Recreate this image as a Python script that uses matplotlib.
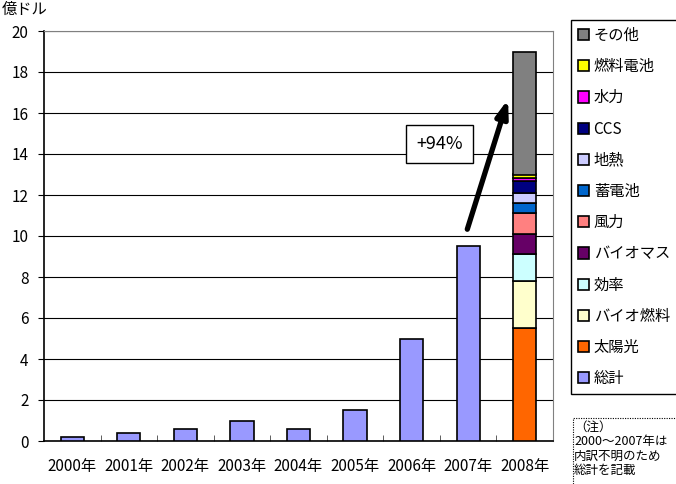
import matplotlib

matplotlib.use("Agg")
import matplotlib.pyplot as plt
from matplotlib.patches import Patch, Rectangle

plt.rcParams["font.family"] = ["Noto Sans CJK JP", "DejaVu Sans"]

YEARS = ["2000年", "2001年", "2002年", "2003年", "2004年", "2005年", "2006年", "2007年", "2008年"]
# totals for 2000-2007 (no breakdown available)
TOTALS = [0.2, 0.4, 0.6, 1.0, 0.6, 1.5, 5.0, 9.5]

# 2008 breakdown, bottom to top
SEGMENTS = ["太陽光", "バイオ燃料", "効率", "バイオマス", "風力", "蓄電池",
            "地熱", "CCS", "水力", "燃料電池", "その他"]
SEG_VALUES = [5.5, 2.3, 1.3, 1.0, 1.0, 0.5, 0.5, 0.6, 0.15, 0.15, 6.0]
SEG_COLORS = ["#FF6600", "#FFFFCC", "#CCFFFF", "#660066", "#FF8080", "#0066CC",
              "#CCCCFF", "#000080", "#FF00FF", "#FFFF00", "#808080"]
TOTAL_COLOR = "#9999FF"

fig = plt.figure(figsize=(6.76, 4.84), dpi=100)
ax = fig.add_axes([44 / 676, 43 / 484, 509 / 676, 410 / 484])

x = list(range(len(YEARS)))
w = 0.41
ax.bar(x[:len(TOTALS)], TOTALS, width=w, color=TOTAL_COLOR, edgecolor="black", linewidth=1.2, zorder=3)

bottom = 0.0
for val, col in zip(SEG_VALUES, SEG_COLORS):
    ax.bar(x[-1], val, width=w, bottom=bottom, color=col, edgecolor="black", linewidth=1.2, zorder=3)
    bottom += val

ax.set_xlim(-0.5, len(YEARS) - 0.5)
ax.set_ylim(0, 20)
ax.set_yticks(range(0, 21, 2))
ax.yaxis.grid(True, color="black", linewidth=0.8, zorder=0)
ax.set_xticks(x)
ax.set_xticklabels(YEARS, fontsize=11)
ax.set_xticks([i + 0.5 for i in x[:-1]], minor=True)
ax.tick_params(axis="x", which="major", length=0, pad=12)
ax.tick_params(axis="x", which="minor", direction="in", length=4, color="#444444")
ax.tick_params(axis="y", labelsize=11, length=4, direction="out", pad=7)
for side in ["top", "right"]:
    ax.spines[side].set_color("#808080")
for side in ["left", "bottom"]:
    ax.spines[side].set_color("black")
    ax.spines[side].set_linewidth(1.2)

fig.text(2 / 676, 1 - 1 / 484, "億ドル", fontsize=11, va="top", ha="left")

# growth arrow and label
ax.annotate("", xy=(7.72, 16.8), xytext=(6.97, 10.2),
            arrowprops=dict(arrowstyle="-|>,head_length=1.0,head_width=0.35", color="black", lw=3.8),
            zorder=5)
ax.text(6.49, 14.5, "+94%", fontsize=13, ha="center", va="center", zorder=6,
        bbox=dict(boxstyle="square,pad=0.55", facecolor="white", edgecolor="black", linewidth=1.0))

# legend (top entry = top of stack, total at bottom)
handles = [Patch(facecolor=c, edgecolor="black", linewidth=1.2, label=l)
           for l, c in zip(SEGMENTS[::-1], SEG_COLORS[::-1])]
handles.append(Patch(facecolor=TOTAL_COLOR, edgecolor="black", linewidth=1.2, label="総計"))
leg = fig.legend(handles=handles, loc="upper left", bbox_to_anchor=(571 / 676, 1 - 20 / 484),
                 fontsize=11, frameon=True, fancybox=False, edgecolor="black", framealpha=1.0,
                 handlelength=0.75, handleheight=0.75, handletextpad=0.28, labelspacing=0.93,
                 borderaxespad=0, borderpad=0.45)
leg.get_frame().set_linewidth(1.0)

# note box (dotted, runs off the right and bottom edges)
fig.patches.append(Rectangle((573 / 676, -0.1), 0.5, 0.1 + 1 - 418 / 484, transform=fig.transFigure,
                             fill=False, edgecolor="black", linestyle=(0, (1, 1.2)), linewidth=0.8))
fig.text(574 / 676, 1 - 421 / 484, "（注）\n2000～2007年は\n内訳不明のため\n総計を記載",
         fontsize=9, va="top", ha="left", linespacing=1.12)

fig.savefig("out.png", dpi=100)
